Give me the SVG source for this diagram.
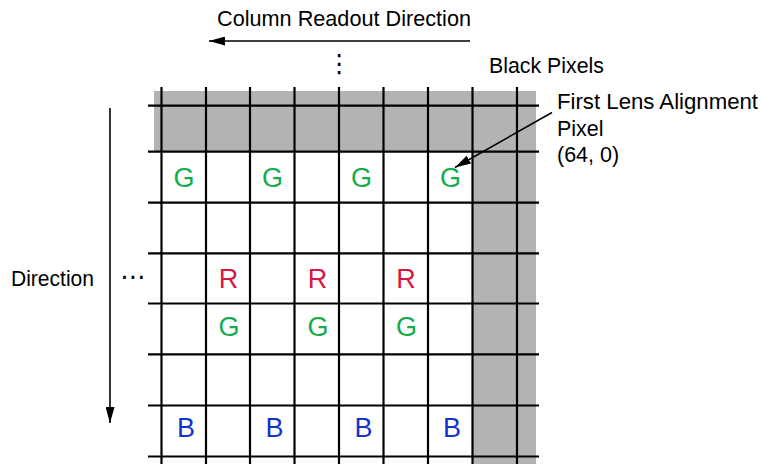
<svg xmlns="http://www.w3.org/2000/svg" width="763" height="464" viewBox="0 0 763 464">
<defs>
<style>
.lbl{font-family:"Liberation Sans",Arial,sans-serif;font-size:21.5px;fill:#000}
.px{font-family:"Liberation Sans",Arial,sans-serif;font-size:27px;text-anchor:middle}
.g{fill:#12ad4b}.r{fill:#d8163f}.b{fill:#1532cf}
.grid line{stroke:#000;stroke-width:2.2}
.dots{font-family:"DejaVu Sans",sans-serif;font-size:25px;fill:#000}
</style>
<marker id="ah" viewBox="0 0 16 9" refX="16" refY="4.5" markerWidth="16" markerHeight="9" markerUnits="userSpaceOnUse" orient="auto">
<path d="M0,0 L16,4.5 L0,9 Z" fill="#000"/>
</marker>
</defs>
<rect width="763" height="464" fill="#fff"/>
<g id="black-pixels-area">
<rect x="154" y="91" width="382" height="61" fill="#b3b3b3"/>
<rect x="472" y="152" width="64" height="312" fill="#b3b3b3"/>
</g>
<g id="grid" class="grid">
<line x1="161.5" y1="87" x2="161.5" y2="464"/>
<line x1="206" y1="87" x2="206" y2="464"/>
<line x1="250" y1="87" x2="250" y2="464"/>
<line x1="294.5" y1="87" x2="294.5" y2="464"/>
<line x1="339" y1="87" x2="339" y2="464"/>
<line x1="383.5" y1="87" x2="383.5" y2="464"/>
<line x1="428" y1="87" x2="428" y2="464"/>
<line x1="472.5" y1="87" x2="472.5" y2="464"/>
<line x1="517" y1="87" x2="517" y2="464"/>
<line x1="148" y1="105.7" x2="539" y2="105.7"/>
<line x1="148" y1="151.7" x2="539" y2="151.7"/>
<line x1="148" y1="202.7" x2="539" y2="202.7"/>
<line x1="148" y1="253.3" x2="539" y2="253.3"/>
<line x1="148" y1="303.5" x2="539" y2="303.5"/>
<line x1="148" y1="354.3" x2="539" y2="354.3"/>
<line x1="148" y1="405.5" x2="539" y2="405.5"/>
<line x1="148" y1="456.5" x2="539" y2="456.5"/>
</g>
<g id="pixels">
<text class="px g" x="184" y="187.3">G</text>
<text class="px g" x="272.5" y="187.3">G</text>
<text class="px g" x="361.5" y="187.3">G</text>
<text class="px g" x="450.5" y="187.3">G</text>
<text class="px r" x="228.5" y="288.3">R</text>
<text class="px r" x="317.5" y="288.3">R</text>
<text class="px r" x="406" y="288.3">R</text>
<text class="px g" x="229" y="336">G</text>
<text class="px g" x="318" y="336">G</text>
<text class="px g" x="406.5" y="336">G</text>
<text class="px b" x="186" y="436.7">B</text>
<text class="px b" x="274.5" y="436.7">B</text>
<text class="px b" x="363.5" y="436.7">B</text>
<text class="px b" x="452" y="436.7">B</text>
</g>
<g id="connectors" stroke="#000" stroke-width="1.6" fill="none">
<line x1="470" y1="41" x2="209" y2="41" marker-end="url(#ah)"/>
<line x1="110" y1="108" x2="110" y2="423" marker-end="url(#ah)"/>
<line x1="552" y1="112.5" x2="455" y2="167.5" marker-end="url(#ah)"/>
</g>
<g id="label-column-readout"><text class="lbl" x="217" y="26" textLength="254" lengthAdjust="spacingAndGlyphs">Column Readout Direction</text></g>
<g id="label-black-pixels"><text class="lbl" x="489" y="73" textLength="115" lengthAdjust="spacingAndGlyphs">Black Pixels</text></g>
<g id="label-direction"><text class="lbl" x="11" y="286" textLength="83" lengthAdjust="spacingAndGlyphs">Direction</text></g>
<g id="label-first-lens">
<text class="lbl" x="557" y="108.5" textLength="201" lengthAdjust="spacingAndGlyphs">First Lens Alignment</text>
<text class="lbl" x="557" y="136">Pixel</text>
<text class="lbl" x="557" y="162">(64, 0)</text>
</g>
<g id="ellipses">
<text class="dots" x="339.3" y="72" text-anchor="middle">⋮</text>
<text class="dots" x="132.7" y="285" text-anchor="middle">⋯</text>
</g>
</svg>
